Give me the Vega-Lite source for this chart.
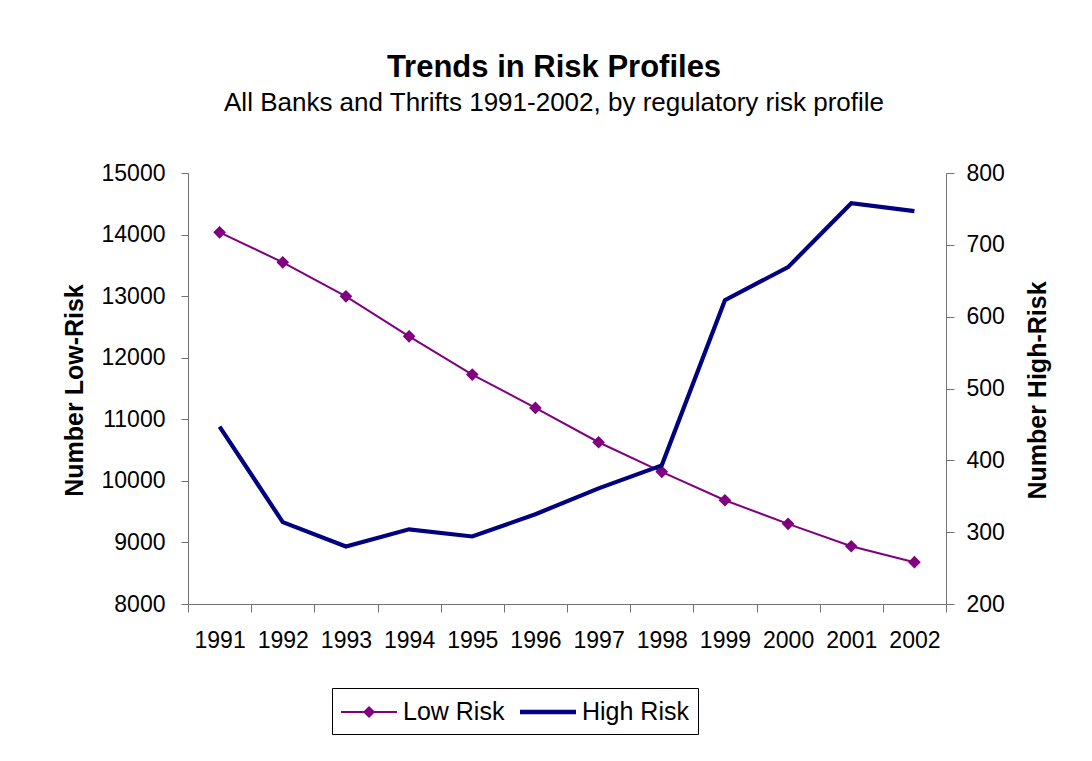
{
  "$schema": "https://vega.github.io/schema/vega-lite/v6.json",
  "width": 758,
  "height": 431,
  "autosize": {"type": "none"},
  "padding": {"left": 188, "top": 173, "right": 146, "bottom": 157},
  "background": "white",
  "title": {
    "text": "Trends in Risk Profiles",
    "subtitle": "All Banks and Thrifts 1991-2002, by regulatory risk profile",
    "font": "Liberation Sans",
    "subtitleFont": "Liberation Sans",
    "fontSize": 31,
    "subtitleFontSize": 26,
    "fontWeight": "bold",
    "color": "black",
    "subtitleColor": "black",
    "anchor": "middle",
    "frame": "group",
    "dx": -13,
    "offset": 45,
    "subtitlePadding": 6
  },
  "data": {
    "values": [
      {"year": "1991", "low": 14036, "high": 447},
      {"year": "1992", "low": 13549, "high": 314},
      {"year": "1993", "low": 12997, "high": 280},
      {"year": "1994", "low": 12347, "high": 304},
      {"year": "1995", "low": 11726, "high": 294},
      {"year": "1996", "low": 11185, "high": 325},
      {"year": "1997", "low": 10627, "high": 361},
      {"year": "1998", "low": 10146, "high": 393},
      {"year": "1999", "low": 9685, "high": 623},
      {"year": "2000", "low": 9302, "high": 669},
      {"year": "2001", "low": 8938, "high": 758},
      {"year": "2002", "low": 8679, "high": 747}
    ]
  },
  "encoding": {
    "x": {
      "field": "year",
      "type": "ordinal",
      "scale": {"type": "band", "paddingInner": 0, "paddingOuter": 0},
      "axis": {
        "title": null,
        "labelAngle": 0,
        "labelFont": "Liberation Sans",
        "labelFontSize": 23,
        "labelColor": "black",
        "labelPadding": 17,
        "tickBand": "extent",
        "tickSize": 8,
        "tickColor": "#737373",
        "domainColor": "#737373",
        "grid": false
      }
    }
  },
  "layer": [
    {
      "mark": {
        "type": "line",
        "strokeWidth": 2,
        "point": {"shape": "diamond", "size": 160, "filled": true, "color": "#800080", "opacity": 1}
      },
      "encoding": {
        "y": {
          "field": "low",
          "type": "quantitative",
          "scale": {"domain": [8000, 15000], "nice": false, "zero": false},
          "axis": {
            "orient": "left",
            "title": "Number Low-Risk",
            "values": [8000, 9000, 10000, 11000, 12000, 13000, 14000, 15000],
            "format": "d",
            "grid": false,
            "labelFont": "Liberation Sans",
            "labelFontSize": 23,
            "labelColor": "black",
            "labelPadding": 16,
            "tickSize": 7,
            "tickColor": "#737373",
            "domainColor": "#737373",
            "titleFont": "Liberation Sans",
            "titleFontSize": 25,
            "titleFontWeight": "bold",
            "titleColor": "black",
            "titleAngle": 270,
            "titleBaseline": "middle",
            "titleX": -114,
            "titleY": 217
          }
        },
        "color": {
          "datum": "Low Risk",
          "type": "nominal",
          "scale": {"domain": ["Low Risk", "High Risk"], "range": ["#800080", "#000080"]},
          "legend": {
            "title": null,
            "orient": "none",
            "legendX": 144,
            "legendY": 515,
            "direction": "horizontal",
            "strokeColor": "#000000",
            "padding": 9,
            "labelFont": "Liberation Sans",
            "labelFontSize": 25,
            "labelColor": "black",
            "symbolSize": 900,
            "symbolStrokeWidth": 0,
            "labelOffset": 32,
            "columnPadding": 15,
            "encode": {
              "symbols": {
                "update": {
                  "shape": {"signal": "datum.value === 'Low Risk' ? 'M-1,-0.067H2.733V0.067H-1Z M0.467,0L0.867,-0.4L1.267,0L0.867,0.4Z' : 'M-1,-0.143H2.733V0.143H-1Z'"},
                  "fill": {"signal": "datum.value === 'Low Risk' ? '#800080' : '#000080'"},
                  "stroke": {"value": "transparent"},
                  "opacity": {"value": 1},
                  "fillOpacity": {"value": 1}
                }
              }
            }
          }
        }
      }
    },
    {
      "mark": {"type": "line", "strokeWidth": 4.2},
      "encoding": {
        "y": {
          "field": "high",
          "type": "quantitative",
          "scale": {"domain": [200, 800], "nice": false, "zero": false},
          "axis": {
            "orient": "right",
            "title": "Number High-Risk",
            "values": [200, 300, 400, 500, 600, 700, 800],
            "grid": false,
            "labelFont": "Liberation Sans",
            "labelFontSize": 23,
            "labelColor": "black",
            "labelPadding": 12,
            "tickSize": 8,
            "tickColor": "#737373",
            "domainColor": "#737373",
            "titleFont": "Liberation Sans",
            "titleFontSize": 25,
            "titleFontWeight": "bold",
            "titleColor": "black",
            "titleAngle": 270,
            "titleBaseline": "middle",
            "titleX": 91,
            "titleY": 217
          }
        },
        "color": {"datum": "High Risk", "type": "nominal"}
      }
    }
  ],
  "resolve": {"scale": {"y": "independent"}},
  "config": {
    "view": {"stroke": null}
  }
}
